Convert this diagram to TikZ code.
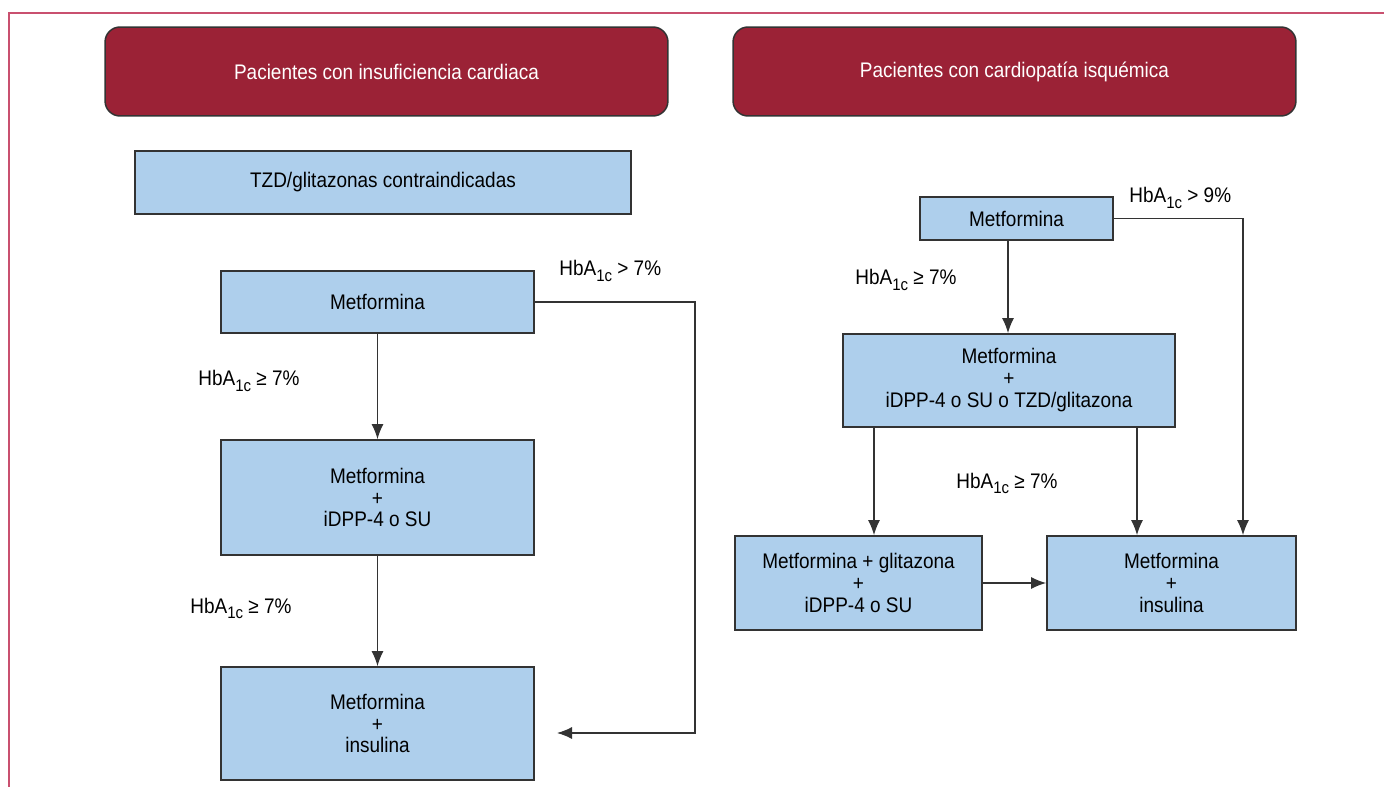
\documentclass[tikz,border=0pt]{standalone}
\usepackage{fontspec}
\setmainfont{Liberation Sans}[FakeStretch=0.9]
\usetikzlibrary{arrows.meta,calc}
\definecolor{headred}{HTML}{9B2236}
\definecolor{boxblue}{HTML}{AECFEC}
\definecolor{framepink}{HTML}{C9506F}
\definecolor{edgegray}{HTML}{333333}
\tikzset{
  headbox/.style={draw=edgegray, fill=headred, rounded corners=0.3cm, line width=0.03cm,
    minimum width=11.26cm, minimum height=1.78cm, text=white, inner sep=0pt},
  bluebox/.style={draw=edgegray, fill=boxblue, line width=0.035cm, inner sep=0pt, align=center},
  arr/.style={-{Latex[length=0.3cm,width=0.24cm]}, line width=0.025cm, draw=edgegray},
  hbalabel/.style={anchor=base west, inner sep=0pt},
}
\newcommand{\hba}{HbA\raisebox{-0.45ex}{\fontsize{9.5}{9.5}\selectfont 1c}}
\begin{document}
\begin{tikzpicture}[x=0.02cm, y=-0.02cm, font=\fontsize{12}{12.5}\selectfont]
\useasboundingbox (0,0) rectangle (1384,787);
\draw[framepink, line width=0.04cm] (9,787) -- (9,13) -- (1384,13); % frame
% headers
\node[headbox] (hdl) at (386.5,71.5) {Pacientes con insuficiencia cardiaca};
\node[headbox] (hdr) at (1014.5,71.5) {Pacientes con cardiopatía isquémica};
% left column
\node[bluebox, minimum width=9.92cm, minimum height=1.26cm] (tzd) at (383,182.5) {TZD/glitazonas contraindicadas};
\node[bluebox, minimum width=6.26cm, minimum height=1.24cm] (metL) at (377.5,302) {Metformina};
\node[bluebox, minimum width=6.26cm, minimum height=2.3cm] (combL) at (377.5,497.5) {Metformina\\+\\iDPP-4 o SU};
\node[bluebox, minimum width=6.26cm, minimum height=2.26cm] (insL) at (377.5,723.5) {Metformina\\+\\insulina};
% right column
\node[bluebox, minimum width=3.86cm, minimum height=0.86cm] (metR) at (1016.5,218.5) {Metformina};
\node[bluebox, minimum width=6.64cm, minimum height=1.86cm] (combR) at (1009,380.5) {Metformina\\+\\iDPP-4 o SU o TZD/glitazona};
\node[bluebox, minimum width=4.94cm, minimum height=1.88cm] (triR) at (858.5,583) {Metformina + glitazona\\+\\iDPP-4 o SU};
\node[bluebox, minimum width=4.98cm, minimum height=1.88cm] (insR) at (1171.5,583) {Metformina\\+\\insulina};
% connectors
\coordinate (turnL) at (695,733);
\coordinate (endL) at (557,733);
\coordinate (downR) at ($(insR.north)+(71.5,0)$);
\coordinate (toTri) at ($(triR.north)+(15.5,0)$);
\coordinate (toIns) at ($(insR.north)+(-34.5,0)$);
\coordinate (toComb) at ($(combR.north)+(-1,0)$);
\draw[arr] (metL) -- (combL);
\draw[arr] (combL) -- (insL);
\draw[arr] (metL.east) -| (turnL) -- (endL);
\draw[arr] (metR.south -| toComb) -- (toComb);
\draw[arr] (metR.east) -| (downR);
\draw[arr] (combR.south -| toTri) -- (toTri);
\draw[arr] (combR.south -| toIns) -- (toIns);
\draw[arr] (triR.east |- insR.west) -- (insR.west);
% edit here for the labels
\foreach \n/\px/\py/\t/\v in {a/559/276/>/7, b/198/386/≥/7, c/190/613/≥/7, d/1129/203/>/9, e/855/285/≥/7, f/956/488/≥/7}
  \node[hbalabel] (lab\n) at (\px,\py) {\hba{} \t{} \v\%};
\end{tikzpicture}
\end{document}
